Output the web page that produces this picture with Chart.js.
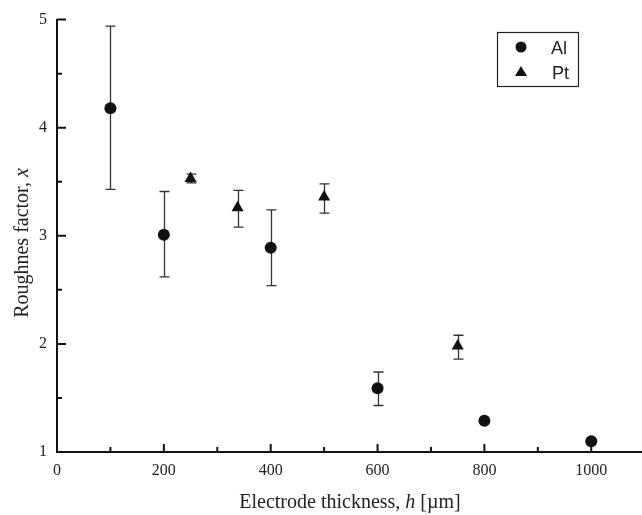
<!DOCTYPE html>
<html>
<head>
<meta charset="utf-8">
<script src="https://cdn.jsdelivr.net/npm/chart.js@4/dist/chart.umd.min.js"></script>
<style>
  html, body { margin: 0; padding: 0; background: #fff; }
  #wrap { width: 642px; height: 515px; }
</style>
</head>
<body>
<div id="wrap"><canvas id="c" width="642" height="515"></canvas></div>
<script>
// Al electrodes: thickness (µm), roughness factor and error bar limits
const alX  = [100, 200, 400, 600, 800, 1000];
const alY  = [4.18, 3.01, 2.89, 1.59, 1.29, 1.10];
const alHi = [4.94, 3.41, 3.24, 1.74, null, null];
const alLo = [3.43, 2.62, 2.54, 1.43, null, null];

// Pt electrodes
const ptX  = [250, 338, 500, 750];
const ptY  = [3.53, 3.26, 3.36, 1.98];
const ptHi = [3.57, 3.42, 3.48, 2.08];
const ptLo = [3.49, 3.08, 3.21, 1.86];

// Axis ticks
const xMajor = [0, 200, 400, 600, 800, 1000];
const xMinor = [100, 300, 500, 700, 900];
const yMajor = [1, 2, 3, 4, 5];
const yMinor = [1.5, 2.5, 3.5, 4.5];

const INK = '#111';
const SERIF = '"Liberation Serif", "Times New Roman", serif';
const SANS = '"Liberation Sans", Arial, sans-serif';

const toPts = (xs, ys, hi, lo) => xs.map((x, i) => ({ x, y: ys[i], hi: hi[i], lo: lo[i] }));

// Vertical error bars with caps, drawn behind the markers
const errorBars = {
  id: 'errorBars',
  beforeDatasetsDraw(chart) {
    const { ctx, scales: { x, y } } = chart;
    ctx.save();
    ctx.strokeStyle = '#333';
    ctx.lineWidth = 1.3;
    chart.data.datasets.forEach(ds => {
      ds.data.forEach(p => {
        if (p.hi == null || p.lo == null) return;
        const px = Math.round(x.getPixelForValue(p.x)) + 0.5;
        const yh = y.getPixelForValue(p.hi);
        const yl = y.getPixelForValue(p.lo);
        ctx.beginPath();
        ctx.moveTo(px, yh); ctx.lineTo(px, yl);
        ctx.moveTo(px - 5, yh); ctx.lineTo(px + 5, yh);
        ctx.moveTo(px - 5, yl); ctx.lineTo(px + 5, yl);
        ctx.stroke();
      });
    });
    ctx.restore();
  }
};

// Inward-pointing tick marks, axis titles with italic symbols, boxed legend
const decorations = {
  id: 'decorations',
  afterDraw(chart) {
    const { ctx, chartArea: a, scales: { x, y } } = chart;
    ctx.save();
    ctx.strokeStyle = INK;
    ctx.lineWidth = 2;
    ctx.beginPath();
    xMajor.forEach(v => { const p = x.getPixelForValue(v); ctx.moveTo(p, a.bottom); ctx.lineTo(p, a.bottom - 8); });
    xMinor.forEach(v => { const p = x.getPixelForValue(v); ctx.moveTo(p, a.bottom); ctx.lineTo(p, a.bottom - 5); });
    yMajor.forEach(v => { const p = y.getPixelForValue(v); ctx.moveTo(a.left, p); ctx.lineTo(a.left + 9, p); });
    yMinor.forEach(v => { const p = y.getPixelForValue(v); ctx.moveTo(a.left, p); ctx.lineTo(a.left + 5, p); });
    ctx.stroke();

    // axis titles
    ctx.fillStyle = '#222';
    ctx.textBaseline = 'alphabetic';
    const drawParts = (parts, cx, cy) => {
      let total = 0;
      parts.forEach(pt => { ctx.font = pt[1]; total += ctx.measureText(pt[0]).width; });
      let xx = cx - total / 2;
      ctx.textAlign = 'left';
      parts.forEach(pt => { ctx.font = pt[1]; ctx.fillText(pt[0], xx, cy); xx += ctx.measureText(pt[0]).width; });
    };
    const reg = '20px ' + SERIF, ita = 'italic 20px ' + SERIF;
    drawParts([['Electrode thickness, ', reg], ['h', ita], [' [\u00b5m]', reg]], 350, 508);
    ctx.save();
    ctx.translate(28, 243);
    ctx.rotate(-Math.PI / 2);
    drawParts([['Roughnes factor, ', reg], ['x', ita]], 0, 0);
    ctx.restore();

    // legend
    const bx = 497, by = 32, bw = 81, bh = 54;
    ctx.lineWidth = 1.2;
    ctx.strokeStyle = '#222';
    ctx.strokeRect(bx + 0.5, by + 0.5, bw, bh);
    ctx.fillStyle = INK;
    ctx.beginPath(); ctx.arc(521, 47, 5.5, 0, Math.PI * 2); ctx.fill();
    ctx.beginPath(); ctx.moveTo(521, 66); ctx.lineTo(527, 76); ctx.lineTo(515, 76); ctx.closePath(); ctx.fill();
    ctx.font = '18px ' + SANS;
    ctx.textAlign = 'left';
    ctx.textBaseline = 'alphabetic';
    ctx.fillStyle = '#222';
    ctx.fillText('Al', 551, 54);
    ctx.fillText('Pt', 552, 79);
    ctx.restore();
  }
};

new Chart(document.getElementById('c'), {
  type: 'scatter',
  data: {
    datasets: [
      { label: 'Al', data: toPts(alX, alY, alHi, alLo), pointStyle: 'circle', pointRadius: 6,
        backgroundColor: INK, borderColor: INK, borderWidth: 0 },
      { label: 'Pt', data: toPts(ptX, ptY, ptHi, ptLo), pointStyle: 'triangle', pointRadius: 7,
        backgroundColor: INK, borderColor: INK, borderWidth: 0 }
    ]
  },
  options: {
    responsive: false,
    animation: false,
    layout: { autoPadding: false, padding: { left: 0, right: 0, top: 19, bottom: 0 } },
    plugins: { legend: { display: false }, tooltip: { enabled: false } },
    scales: {
      x: {
        type: 'linear', min: 0, max: 1095,
        afterBuildTicks: s => { s.ticks = xMajor.map(v => ({ value: v })); },
        afterFit: s => { s.height = 63; s.paddingRight = 0; s.paddingLeft = 0; },
        grid: { display: false, drawTicks: false },
        border: { display: true, color: INK, width: 2 },
        ticks: { color: '#222', font: { family: SERIF, size: 16 }, padding: 9, maxRotation: 0,
                 callback: v => String(v) }
      },
      y: {
        type: 'linear', min: 1, max: 5,
        afterBuildTicks: s => { s.ticks = yMajor.map(v => ({ value: v })); },
        afterFit: s => { s.width = 57; },
        grid: { display: false, drawTicks: false },
        border: { display: true, color: INK, width: 2 },
        ticks: { color: '#222', font: { family: SERIF, size: 16 }, padding: 10,
                 callback: v => String(v) }
      }
    }
  },
  plugins: [errorBars, decorations]
});
</script>
</body>
</html>
